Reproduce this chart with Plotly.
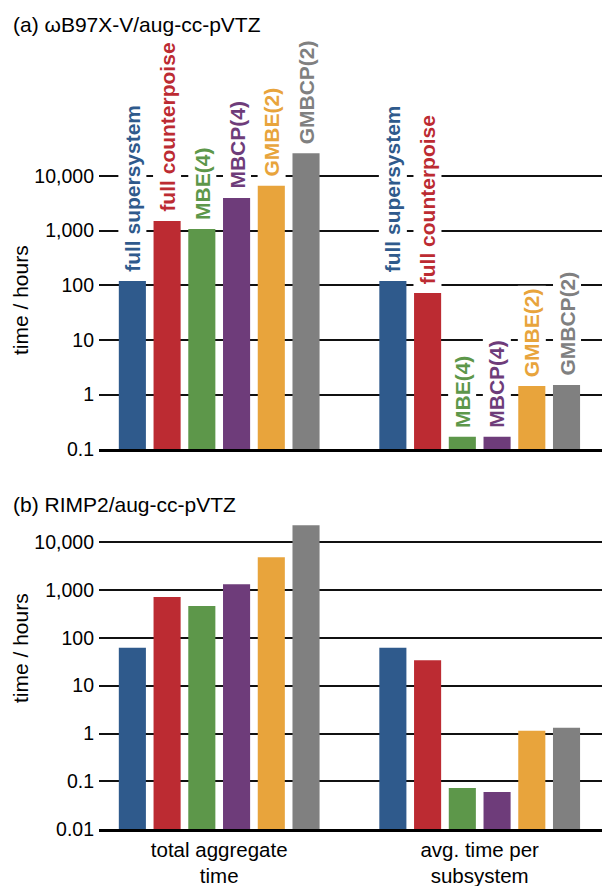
import math
import plotly.graph_objects as go

# Methods and their colours
methods = ["full supersystem", "full counterpoise", "MBE(4)", "MBCP(4)", "GMBE(2)", "GMBCP(2)"]
colors = ["#2F5A8C", "#BC2B32", "#5D974A", "#6E3C7A", "#E8A43C", "#808080"]

# Category labels on the shared x axis
groups = ["total aggregate<br>time", "avg. time per<br>subsystem"]

# Wall-clock times in hours: [total aggregate, average per subsystem]
wb97_total = [120, 1500, 1070, 3950, 6650, 26000]
wb97_avg = [120, 72, 0.17, 0.17, 1.44, 1.5]
rimp2_total = [62, 710, 460, 1300, 4800, 22300]
rimp2_avg = [62, 34, 0.073, 0.060, 1.14, 1.32]

# Tick labels
ticks_a = [0.1, 1, 10, 100, 1000, 10000]
ticks_a_text = ["0.1", "1", "10", "100", "1,000", "10,000"]
ticks_b = [0.01, 0.1, 1, 10, 100, 1000, 10000]
ticks_b_text = ["0.01", "0.1", "1", "10", "100", "1,000", "10,000"]

FONT = "Liberation Sans, Arial, Helvetica, sans-serif"
BARGAP = 0.2
BARGROUPGAP = 0.22
W, H = 602, 886
ML = 99  # left margin holding the tick labels


def px_x(px):
    """Pixel column -> paper x (paper spans the plotting width only)."""
    return (px - ML) / (W - ML)


def px_y(px):
    return 1 - px / H


fig = go.Figure()

for i, m in enumerate(methods):
    fig.add_trace(go.Bar(x=[0, 1], y=[wb97_total[i], wb97_avg[i]], name=m,
                         marker=dict(color=colors[i], line=dict(width=0)),
                         xaxis="x", yaxis="y", offsetgroup=str(i), showlegend=False))
    fig.add_trace(go.Bar(x=[0, 1], y=[rimp2_total[i], rimp2_avg[i]], name=m,
                         marker=dict(color=colors[i], line=dict(width=0)),
                         xaxis="x2", yaxis="y2", offsetgroup=str(i), showlegend=False))

# Vertical method labels above the bars of panel (a)
slot = (1 - BARGAP) / len(methods)
annotations = []
for g, series in enumerate([wb97_total, wb97_avg]):
    for i, m in enumerate(methods):
        annotations.append(dict(
            x=g + (i - (len(methods) - 1) / 2) * slot, y=math.log10(series[i]),
            xref="x", yref="y", text=m, textangle=-90, showarrow=False,
            xanchor="center", yanchor="bottom", yshift=6,
            bgcolor="white", borderpad=2,
            font=dict(family=FONT, size=21, color=colors[i], weight="bold")))

# Panel titles
annotations.append(dict(x=px_x(11), y=px_y(24), xref="paper", yref="paper",
                        text="(a) \u03c9B97X-V/aug-cc-pVTZ", showarrow=False,
                        xanchor="left", yanchor="middle",
                        font=dict(family=FONT, size=21, color="black")))
annotations.append(dict(x=px_x(11), y=px_y(504), xref="paper", yref="paper",
                        text="(b) RIMP2/aug-cc-pVTZ", showarrow=False,
                        xanchor="left", yanchor="middle",
                        font=dict(family=FONT, size=21, color="black")))
# y axis titles
for yc in (300, 648):
    annotations.append(dict(x=px_x(20), y=px_y(yc), xref="paper", yref="paper",
                            text="time / hours", showarrow=False, textangle=-90,
                            xanchor="center", yanchor="middle",
                            font=dict(family=FONT, size=21, color="black")))

xrange = [-0.4614, 1.4695]
common_x = dict(range=xrange, showgrid=False, zeroline=False, showline=True,
                linecolor="black", linewidth=2.6, ticks="", automargin=False,
                tickvals=[0, 1], ticktext=groups)
grid = dict(showgrid=True, gridcolor="#111111", gridwidth=1.6, zeroline=False,
            showline=False, ticks="", type="log", automargin=False,
            tickfont=dict(family=FONT, size=19.5, color="black"), ticklabelstandoff=4)

fig.update_layout(
    width=W, height=H,
    margin=dict(l=ML, r=0, t=0, b=0, autoexpand=False),
    paper_bgcolor="white", plot_bgcolor="white",
    barmode="group", bargap=BARGAP, bargroupgap=BARGROUPGAP,
    font=dict(family=FONT, color="black"),
    xaxis=dict(**common_x, anchor="y", showticklabels=False),
    xaxis2=dict(**common_x, anchor="y2", showticklabels=True, ticklabelstandoff=0,
                tickfont=dict(family=FONT, size=20.5, color="black")),
    yaxis=dict(**grid, anchor="x", domain=[px_y(449.3), px_y(40)],
               range=[-1, -1 + (449.3 - 40) / 54.66],
               tickvals=ticks_a, ticktext=ticks_a_text),
    yaxis2=dict(**grid, anchor="x2", domain=[px_y(829.3), px_y(515)],
                range=[-2, -2 + (829.3 - 515) / 47.9],
                tickvals=ticks_b, ticktext=ticks_b_text),
    annotations=annotations,
)

fig.write_html("out.html")
